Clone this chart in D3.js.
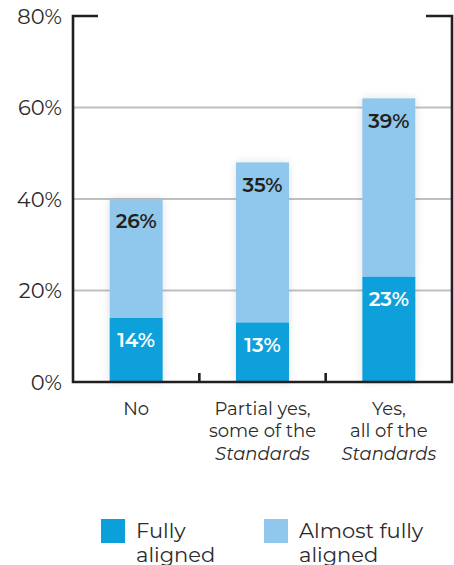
<!DOCTYPE html>
<html><head><meta charset="utf-8">
<script src="https://cdn.jsdelivr.net/npm/d3@7"></script>
<style>
body{margin:0;background:#fff;}
text{font-family:"Montserrat","Lato","Open Sans",sans-serif;}
</style></head>
<body><svg id="c" width="454" height="565"></svg>
<script>
const categories = ["No", "Partial yes, some of the Standards", "Yes, all of the Standards"];
const categoryLines = [["No"], ["Partial yes,", "some of the", "*Standards"], ["Yes,", "all of the", "*Standards"]];
const fullyAligned = [14, 13, 23];
const almostFullyAligned = [26, 35, 39];
const yTicks = [0, 20, 40, 60, 80];
const seriesNames = ["Fully aligned", "Almost fully aligned"];
const legendLines = [["Fully", "aligned"], ["Almost fully", "aligned"]];

const svg = d3.select("#c");
const mLeft = 73, mRight = 452, mTop = 16, mBottom = 382;
const x = d3.scaleBand().domain(categories).range([mLeft, mRight]).paddingInner(0).paddingOuter(0);
const y = d3.scaleLinear().domain([0, 80]).range([mBottom, mTop]);
const barW = 53;
const dark = "#0ca0db", light = "#8fc8ec";

const defs = svg.append("defs");
const f = defs.append("filter").attr("id","sh").attr("x","-30%").attr("y","-30%").attr("width","160%").attr("height","160%");
f.append("feDropShadow").attr("dx",0).attr("dy",0).attr("stdDeviation",4).attr("flood-color","#000").attr("flood-opacity",0.12);

// gridlines
svg.append("g").selectAll("line").data(yTicks.filter(t => t > 0 && t < 80)).join("line")
  .attr("x1", mLeft).attr("x2", mRight).attr("y1", d => y(d)).attr("y2", d => y(d))
  .attr("stroke", "#c0bfc1").attr("stroke-width", 2.2);

// y labels
svg.append("g").selectAll("text").data(yTicks).join("text")
  .attr("x", 62).attr("y", d => y(d)).attr("dy", "0.36em").attr("text-anchor", "end")
  .attr("font-size", 21).attr("fill", "#2b2b2b").text(d => d + "%");

// bars
const g = svg.append("g");
categories.forEach((c, i) => {
  const cx = x(c) + x.bandwidth() / 2;
  const tot = fullyAligned[i] + almostFullyAligned[i];
  const bg = g.append("g").attr("filter", "url(#sh)");
  bg.append("rect").attr("x", cx - barW / 2).attr("width", barW)
    .attr("y", y(tot)).attr("height", y(fullyAligned[i]) - y(tot)).attr("fill", light);
  bg.append("rect").attr("x", cx - barW / 2).attr("width", barW)
    .attr("y", y(fullyAligned[i])).attr("height", mBottom - y(fullyAligned[i])).attr("fill", dark);
  g.append("text").attr("x", cx).attr("y", y(tot) + 22).attr("dy", "0.36em").attr("text-anchor", "middle")
    .attr("font-size", 20).attr("font-weight", 600).attr("fill", "#231f20").text(almostFullyAligned[i] + "%");
  g.append("text").attr("x", cx).attr("y", y(fullyAligned[i]) + 22).attr("dy", "0.36em").attr("text-anchor", "middle")
    .attr("font-size", 20).attr("font-weight", 600).attr("fill", "#fff").text(fullyAligned[i] + "%");
  const t = svg.append("text").attr("x", cx).attr("text-anchor", "middle").attr("font-size", 18).attr("fill", "#2b2b2b");
  categoryLines[i].forEach((ln, k) => {
    const it = ln.startsWith("*");
    t.append("tspan").attr("x", cx).attr("y", 414.5 + k * 22.5)
      .attr("font-style", it ? "italic" : null).text(it ? ln.slice(1) : ln);
  });
});

// frame
const fr = svg.append("g").attr("stroke", "#231f20").attr("stroke-width", 2.6).attr("fill", "none");
fr.append("path").attr("d", `M${mLeft + 25},${mTop} H${mLeft} V${mBottom} H${mRight} V${mTop} H${mRight - 26}`);
x.domain().slice(1).forEach(c => {
  fr.append("line").attr("x1", x(c)).attr("x2", x(c)).attr("y1", mBottom).attr("y2", mBottom - 9);
});

// legend
const legX = [101, 264], legC = [dark, light];
seriesNames.forEach((s, i) => {
  svg.append("rect").attr("x", legX[i]).attr("y", 519).attr("width", 24).attr("height", 24).attr("fill", legC[i]);
  const t = svg.append("text").attr("font-size", 21).attr("fill", "#2b2b2b");
  legendLines[i].forEach((ln, k) => t.append("tspan").attr("x", legX[i] + 35).attr("y", 538 + k * 24).text(ln));
});
</script></body></html>
